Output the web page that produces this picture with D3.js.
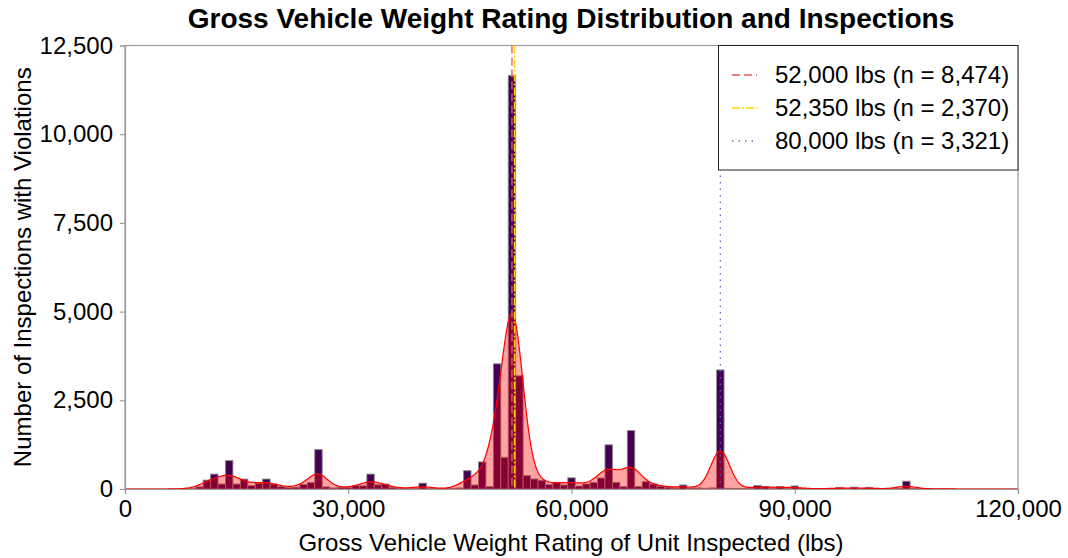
<!DOCTYPE html>
<html>
<head>
<meta charset="utf-8">
<script src="https://cdn.jsdelivr.net/npm/d3@7"></script>
<style>
  html, body { margin: 0; padding: 0; background: #fff; }
  svg { display: block; font-family: "Liberation Sans", Arial, sans-serif; }
</style>
</head>
<body>
<svg id="chart" width="1068" height="558"></svg>
<script>
// ---- Data ----
// Histogram bin centres (lbs), binwidth 1,000
const binCenters = [
   8000,  9000, 10000, 11000, 12000, 13000, 14000, 15000, 16000, 17000,
  18000, 19000, 20000, 21000, 22000, 23000, 24000, 25000, 26000, 27000,
  28000, 29000, 30000, 31000, 32000, 33000, 34000, 35000, 36000, 37000,
  38000, 39000, 40000, 41000, 42000, 43000, 44000, 45000, 46000, 47000,
  48000, 49000, 50000, 51000, 52000, 53000, 54000, 55000, 56000, 57000,
  58000, 59000, 60000, 61000, 62000, 63000, 64000, 65000, 66000, 67000,
  68000, 69000, 70000, 71000, 72000, 73000, 74000, 75000, 76000, 77000,
  78000, 79000, 80000, 81000, 82000, 83000, 84000, 85000, 86000, 87000,
  88000, 89000, 90000, 91000, 92000, 93000, 94000, 95000, 96000, 97000,
  98000, 99000,100000,101000,102000,103000,104000,105000,106000,107000,
 108000,109000,110000
];
const binCounts = [
     5,    20,    60,   250,   420,   140,   800,   140,   280,    95,
   160,   280,   140,    65,    40,    50,   130,   180,  1110,    60,
    30,    40,    40,    90,    90,   420,   120,   140,    40,    20,
    15,    15,   165,    15,    10,    10,    15,    30,   516,   113,
   762,    65,  3528,   894, 11650,  3190,   376,   282,   245,   122,
   189,   113,   315,    85,   141,   185,   310,  1245,   189,    66,
  1646,    66,   207,   141,    80,    50,    30,   113,    30,    30,
    20,    30,  3355,    20,    15,    15,    10,   100,    70,    20,
    70,    20,    85,    10,    10,     5,    10,    10,    45,    10,
    50,    10,    45,     5,     5,    10,    10,   220,    10,     5,
     5,     0,     5
];
const binWidth = 1000;

// Reference lines
const refValues = [52000, 52350, 80000];
const refLabels = ["52,000 lbs (n = 8,474)", "52,350 lbs (n = 2,370)", "80,000 lbs (n = 3,321)"];

// Axis ticks
const xTicks = [0, 30000, 60000, 90000, 120000];
const yTicks = [0, 2500, 5000, 7500, 10000, 12500];

// ---- Styles ----
const refColors = ["#d9605e", "#ffd700", "#6a63b8"];
const refDash = ["8,4", "8,2,2,2", "1.5,5"];

const svg = d3.select("#chart");
const pLeft = 125, pRight = 1018, pTop = 45.5, pBottom = 489;

const x = d3.scaleLinear().domain([0, 120000]).range([pLeft, pRight]);
const y = d3.scaleLinear().domain([0, 12500]).range([pBottom, pTop]);

// Panel border
svg.append("rect")
  .attr("x", pLeft).attr("y", pTop)
  .attr("width", pRight - pLeft).attr("height", pBottom - pTop)
  .attr("fill", "none").attr("stroke", "#9a9a9a").attr("stroke-width", 1.2);

// Bars
const bins = binCenters.map((c, i) => ({ c, n: binCounts[i] })).filter(d => d.n > 0);
svg.append("g").selectAll("rect").data(bins).join("rect")
  .attr("x", d => x(d.c - binWidth / 2))
  .attr("width", d => x(d.c + binWidth / 2) - x(d.c - binWidth / 2))
  .attr("y", d => y(d.n))
  .attr("height", d => y(0) - y(d.n))
  .attr("fill", "#440154")
  .attr("stroke", "#8a8a8a")
  .attr("stroke-width", 0.9);

// Kernel density of the binned data, scaled to counts
const bw = 1270;
const gridX = d3.range(0, 120001, 200);
const dens = gridX.map(g => {
  let s = 0;
  for (let i = 0; i < binCenters.length; i++) {
    const z = (g - binCenters[i]) / bw;
    s += binCounts[i] * Math.exp(-0.5 * z * z);
  }
  return { x: g, y: s * binWidth / (bw * Math.sqrt(2 * Math.PI)) };
});

svg.append("path").datum(dens)
  .attr("d", d3.area().x(d => x(d.x)).y0(y(0)).y1(d => y(d.y)).curve(d3.curveBasis))
  .attr("fill", "red").attr("fill-opacity", 0.36);
svg.append("path").datum(dens)
  .attr("d", d3.line().x(d => x(d.x)).y(d => y(d.y)).curve(d3.curveBasis))
  .attr("fill", "none").attr("stroke", "red").attr("stroke-width", 1.2);

// Reference lines
svg.append("g").selectAll("line").data(refValues).join("line")
  .attr("x1", d => x(d)).attr("x2", d => x(d))
  .attr("y1", pTop).attr("y2", pBottom)
  .attr("stroke", (d, i) => refColors[i])
  .attr("stroke-width", (d, i) => i === 2 ? 1.3 : 1.6)
  .attr("stroke-opacity", (d, i) => i === 0 ? 0.85 : 1)
  .attr("stroke-dasharray", (d, i) => refDash[i]);

// Axes
const yAxis = svg.append("g").attr("transform", `translate(${pLeft},0)`)
  .call(d3.axisLeft(y).tickValues(yTicks).tickFormat(d3.format(",")).tickSize(5).tickPadding(7));
const xAxis = svg.append("g").attr("transform", `translate(0,${pBottom})`)
  .call(d3.axisBottom(x).tickValues(xTicks).tickFormat(d3.format(",")).tickSize(5).tickPadding(6));
[yAxis, xAxis].forEach(a => {
  a.select(".domain").attr("stroke", "#9a9a9a").attr("stroke-width", 1.2);
  a.selectAll(".tick line").attr("stroke", "#9a9a9a").attr("stroke-width", 1.2);
  a.selectAll(".tick text").attr("fill", "#000").style("font-size", "24px")
    .style("font-family", "'Liberation Sans', Arial, sans-serif");
});

// Legend
const lg = svg.append("g");
lg.append("rect")
  .attr("x", 718.5).attr("y", 45.5).attr("width", 299.5).attr("height", 124.5)
  .attr("fill", "#fff").attr("stroke", "#222").attr("stroke-width", 1);
const rowY = [75, 108, 141];
refLabels.forEach((lab, i) => {
  lg.append("line")
    .attr("x1", 732).attr("x2", 757).attr("y1", rowY[i]).attr("y2", rowY[i])
    .attr("stroke", refColors[i]).attr("stroke-width", i === 2 ? 1.3 : 1.4)
    .attr("stroke-dasharray", refDash[i]);
  lg.append("text")
    .attr("x", 775).attr("y", rowY[i]).attr("dy", "0.35em")
    .style("font-size", "24px").attr("fill", "#000")
    .text(lab);
});

// Titles
svg.append("text")
  .attr("x", 571).attr("y", 28).attr("text-anchor", "middle")
  .style("font-size", "28px").style("font-weight", "bold")
  .text("Gross Vehicle Weight Rating Distribution and Inspections");
svg.append("text")
  .attr("x", 571).attr("y", 551).attr("text-anchor", "middle")
  .style("font-size", "24px")
  .text("Gross Vehicle Weight Rating of Unit Inspected (lbs)");
svg.append("text")
  .attr("transform", `translate(31,${(pTop + pBottom) / 2}) rotate(-90)`)
  .attr("text-anchor", "middle")
  .style("font-size", "24px")
  .text("Number of Inspections with Violations");
</script>
</body>
</html>
